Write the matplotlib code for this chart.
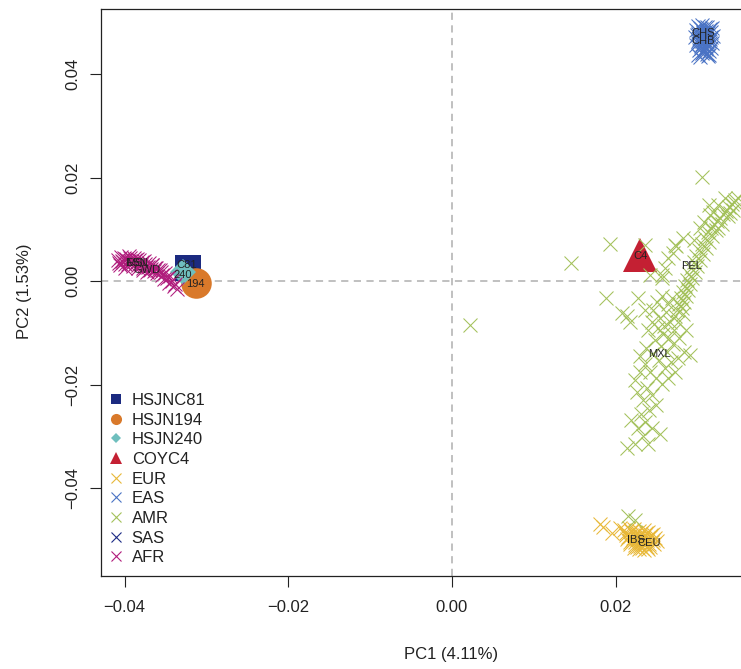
import matplotlib
matplotlib.use('Agg')
import matplotlib.pyplot as plt
from matplotlib.lines import Line2D

plt.rcParams['font.family'] = ['Liberation Sans', 'DejaVu Sans']

# population clouds (PC1, PC2)
afr_x = [-0.0408, -0.0406, -0.0404, -0.0402, -0.0400, -0.0398, -0.0396, -0.0394, -0.0392, -0.0390,
         -0.0388, -0.0386, -0.0384, -0.0382, -0.0380, -0.0378, -0.0376, -0.0374, -0.0372, -0.0370,
         -0.0368, -0.0366, -0.0364, -0.0362, -0.0360, -0.0357, -0.0354, -0.0351, -0.0348, -0.0345,
         -0.0342, -0.0339, -0.0336, -0.0352, -0.0346, -0.0340,
         -0.0407, -0.0403, -0.0399, -0.0395, -0.0391, -0.0387, -0.0383, -0.0379, -0.0375, -0.0371,
         -0.0367, -0.0363, -0.0359, -0.0355, -0.0401, -0.0393, -0.0385, -0.0377, -0.0369]
afr_y = [0.0040, 0.0030, 0.0046, 0.0036, 0.0026, 0.0043, 0.0033, 0.0049, 0.0039, 0.0029,
         0.0045, 0.0035, 0.0025, 0.0041, 0.0031, 0.0021, 0.0038, 0.0028, 0.0018, 0.0034,
         0.0024, 0.0030, 0.0020, 0.0026, 0.0016, 0.0022, 0.0012, 0.0016, 0.0006, 0.0010,
         0.0000, -0.0006, -0.0016, 0.0004, -0.0004, -0.0010,
         0.0035, 0.0038, 0.0032, 0.0038, 0.0034, 0.0040, 0.0030, 0.0036, 0.0032, 0.0027,
         0.0030, 0.0025, 0.0021, 0.0017, 0.0044, 0.0044, 0.0042, 0.0026, 0.0022]

eas_x = [0.0300, 0.0306, 0.0312, 0.0318, 0.0298, 0.0304, 0.0310, 0.0316, 0.0301, 0.0307,
         0.0313, 0.0319, 0.0297, 0.0303, 0.0309, 0.0315, 0.0300, 0.0306, 0.0312, 0.0318,
         0.0298, 0.0304, 0.0310, 0.0316, 0.0302, 0.0308, 0.0314, 0.0305, 0.0311, 0.0303, 0.0313,
         0.0303, 0.0309, 0.0315, 0.0301, 0.0307, 0.0313, 0.0299, 0.0305, 0.0311, 0.0317,
         0.0302, 0.0308, 0.0314, 0.0300, 0.0306, 0.0312, 0.0304, 0.0310, 0.0307, 0.0300, 0.0314]
eas_y = [0.0492, 0.0494, 0.0491, 0.0488, 0.0485, 0.0487, 0.0484, 0.0482, 0.0478, 0.0479,
         0.0476, 0.0474, 0.0472, 0.0470, 0.0471, 0.0468, 0.0463, 0.0464, 0.0461, 0.0459,
         0.0456, 0.0455, 0.0453, 0.0451, 0.0447, 0.0446, 0.0444, 0.0440, 0.0438, 0.0433, 0.0434,
         0.0489, 0.0490, 0.0486, 0.0481, 0.0482, 0.0479, 0.0475, 0.0474, 0.0473, 0.0471,
         0.0467, 0.0466, 0.0464, 0.0459, 0.0458, 0.0456, 0.0450, 0.0449, 0.0442, 0.0437, 0.0437]

eur_x = [0.0184, 0.0195, 0.0205, 0.0181,
         0.0210, 0.0216, 0.0222, 0.0228, 0.0234, 0.0240, 0.0246, 0.0212, 0.0218, 0.0224,
         0.0230, 0.0236, 0.0242, 0.0248, 0.0214, 0.0220, 0.0226, 0.0232, 0.0238, 0.0244,
         0.0250, 0.0218, 0.0224, 0.0230, 0.0236, 0.0242, 0.0228, 0.0234, 0.0222, 0.0240,
         0.0213, 0.0219, 0.0225, 0.0231, 0.0237, 0.0243, 0.0215, 0.0221, 0.0227, 0.0233,
         0.0239, 0.0245, 0.0217, 0.0223, 0.0229, 0.0235, 0.0241, 0.0247, 0.0226, 0.0232, 0.0238]
eur_y = [-0.0475, -0.0487, -0.0477, -0.0470,
         -0.0482, -0.0478, -0.0480, -0.0483, -0.0481, -0.0485, -0.0488, -0.0490, -0.0492, -0.0489,
         -0.0493, -0.0491, -0.0495, -0.0497, -0.0498, -0.0501, -0.0499, -0.0503, -0.0501, -0.0505,
         -0.0503, -0.0508, -0.0510, -0.0512, -0.0509, -0.0513, -0.0518, -0.0520, -0.0515, -0.0517,
         -0.0486, -0.0484, -0.0486, -0.0487, -0.0486, -0.0490, -0.0494, -0.0496, -0.0494, -0.0497,
         -0.0496, -0.0500, -0.0504, -0.0505, -0.0506, -0.0506, -0.0508, -0.0509, -0.0514, -0.0516, -0.0514]

amr_x = [0.0346, 0.0342, 0.0338, 0.0343, 0.0335, 0.0331, 0.0337, 0.0327, 0.0324, 0.0330,
         0.0320, 0.0316, 0.0323, 0.0313, 0.0318, 0.0309, 0.0314, 0.0305, 0.0310, 0.0302,
         0.0307, 0.0298, 0.0303, 0.0296, 0.0299, 0.0292, 0.0297, 0.0290, 0.0293, 0.0287,
         0.0291, 0.0285, 0.0288, 0.0282, 0.0286, 0.0280, 0.0283, 0.0277, 0.0281, 0.0275,
         0.0314, 0.0319, 0.0325, 0.0305, 0.0282, 0.0274, 0.0264, 0.0260, 0.0257, 0.0303,
         0.0296, 0.0334, 0.0340, 0.0325, 0.0315, 0.0308, 0.0350, 0.0345,
         0.0269, 0.0264, 0.0272, 0.0266, 0.0261, 0.0257, 0.0250, 0.0246, 0.0254, 0.0259,
         0.0276, 0.0282, 0.0271, 0.0265, 0.0258, 0.0252, 0.0244, 0.0239, 0.0248, 0.0255,
         0.0263, 0.0270, 0.0277, 0.0286, 0.0283, 0.0276, 0.0268, 0.0260, 0.0253, 0.0244,
         0.0237, 0.0230, 0.0236, 0.0242, 0.0249, 0.0257, 0.0264, 0.0291, 0.0272,
         0.0230, 0.0224, 0.0238, 0.0244, 0.0233, 0.0226, 0.0249, 0.0241, 0.0231, 0.0236,
         0.0244, 0.0254, 0.0227, 0.0233, 0.0224, 0.0214, 0.0239, 0.0219,
         0.0022, 0.0145, 0.0193, 0.0188, 0.0208, 0.0214, 0.0227, 0.0217, 0.0215, 0.0224,
         0.0236, 0.0272, 0.0270, 0.0242, 0.0257, 0.0236]
amr_y = [0.0157, 0.0149, 0.0143, 0.0137, 0.0135, 0.0130, 0.0126, 0.0122, 0.0116, 0.0110,
         0.0110, 0.0102, 0.0099, 0.0095, 0.0087, 0.0083, 0.0075, 0.0072, 0.0064, 0.0060,
         0.0052, 0.0048, 0.0041, 0.0037, 0.0029, 0.0025, 0.0017, 0.0014, 0.0006, 0.0002,
         -0.0006, -0.0010, -0.0017, -0.0021, -0.0029, -0.0033, -0.0041, -0.0044, -0.0052, -0.0056,
         0.0147, 0.0133, 0.0147, 0.0201, 0.0083, 0.0068, 0.0044, 0.0025, 0.0006, 0.0102,
         0.0079, 0.0160, 0.0131, 0.0102, 0.0128, 0.0114, 0.0160, 0.0152,
         -0.0033, -0.0044, -0.0068, -0.0079, -0.0060, -0.0029, -0.0041, -0.0056, -0.0072, -0.0087,
         -0.0079, -0.0064, -0.0095, -0.0110, -0.0102, -0.0091, -0.0079, -0.0095, -0.0114, -0.0126,
         -0.0137, -0.0122, -0.0110, -0.0095, -0.0137, -0.0149, -0.0157, -0.0168, -0.0153, -0.0141,
         -0.0129, -0.0145, -0.0160, -0.0176, -0.0187, -0.0199, -0.0187, -0.0143, -0.0176,
         -0.0176, -0.0191, -0.0207, -0.0220, -0.0230, -0.0214, -0.0240, -0.0249, -0.0257, -0.0272,
         -0.0284, -0.0296, -0.0284, -0.0300, -0.0315, -0.0323, -0.0315, -0.0269,
         -0.0085, 0.0035, 0.0072, -0.0033, -0.0062, -0.0068, -0.0033, -0.0079, -0.0454, -0.0462,
         0.0070, 0.0070, 0.0054, 0.0012, 0.0012, -0.0056]

sas_x = []
sas_y = []

pop_names = ['EUR', 'EAS', 'AMR', 'SAS', 'AFR']
pop_colors = ['#E8B838', '#4A73C4', '#A3C15A', '#1C2A85', '#B01C7C']
pop_x = [eur_x, eas_x, amr_x, sas_x, afr_x]
pop_y = [eur_y, eas_y, amr_y, sas_y, afr_y]

# ancient samples
sample_names = ['HSJNC81', 'HSJN194', 'HSJN240', 'COYC4']
sample_short = ['C81', '194', '240', 'C4']
sample_x = [-0.03225, -0.03128, -0.03287, 0.02297]
sample_y = [0.0025, -0.0004, 0.0017, 0.0050]
sample_markers = ['s', 'o', 'D', '^']
sample_colors = ['#1B2A80', '#D9792A', '#6FBFBE', '#C42033']
sample_sizes = [19, 22, 13, 25]
sample_label_x = [-0.0324, -0.0313, -0.0329, 0.0230]
sample_label_y = [0.0031, -0.0006, 0.0012, 0.0048]

# population labels
lab_text = ['ESN', 'MSL', 'GWD', 'CHS', 'CHB', 'PEL', 'MXL', 'IBS', 'CEU']
lab_x = [-0.0385, -0.0384, -0.0372, 0.0307, 0.0307, 0.0293, 0.0254, 0.0225, 0.0241]
lab_y = [0.0035, 0.0035, 0.0021, 0.0479, 0.0464, 0.0029, -0.0141, -0.0500, -0.0506]

fig = plt.figure(figsize=(7.41, 6.69), dpi=100)
ax = fig.add_axes([101/741, 93/669, 645/741, 567/669])

ax.axvline(0, color='#BBBBBB', lw=1.3, ls=(0, (4, 3)), zorder=1)
ax.axhline(0, color='#BBBBBB', lw=1.3, ls=(0, (4, 3)), zorder=1)

for i in range(4):
    ax.plot(sample_x[i], sample_y[i], marker=sample_markers[i], color=sample_colors[i],
            ms=sample_sizes[i], mew=0, ls='none', zorder=2)

for i in range(5):
    ax.plot(pop_x[i], pop_y[i], marker='x', color=pop_colors[i], ms=10, mew=0.75,
            ls='none', zorder=3)

for i in range(4):
    ax.text(sample_label_x[i], sample_label_y[i], sample_short[i], fontsize=8,
            ha='center', va='center', color='#222222', zorder=4)
for i in range(len(lab_text)):
    ax.text(lab_x[i], lab_y[i], lab_text[i], fontsize=8, ha='center', va='center',
            color='#222222', zorder=4)

ax.set_xlim(-0.04288, 0.03592)
ax.set_ylim(-0.0570, 0.05256)
ax.set_xticks([-0.04, -0.02, 0.00, 0.02])
ax.set_xticklabels(['\u22120.04', '\u22120.02', '0.00', '0.02'])
ax.set_yticks([-0.04, -0.02, 0.00, 0.02, 0.04])
ax.set_yticklabels(['\u22120.04', '\u22120.02', '0.00', '0.02', '0.04'],
                   rotation=90, va='center')
ax.tick_params(direction='out', length=8, width=0.8, labelsize=12, pad=7, colors='#222222')
ax.tick_params(axis='x', pad=9)
for s in ax.spines.values():
    s.set_linewidth(0.9)
    s.set_color('#222222')

ax.set_xlabel('PC1 (4.11%)', fontsize=12, color='#222222')
ax.xaxis.set_label_coords(0.543, -0.125)
ax.set_ylabel('PC2 (1.53%)', fontsize=12, color='#222222')
ax.yaxis.set_label_coords(-0.107, 0.503)

handles = []
leg_ms = [7, 8, 5, 9]
for i in range(4):
    handles.append(Line2D([], [], marker=sample_markers[i], color=sample_colors[i],
                          ms=leg_ms[i], mew=0, ls='none', label=sample_names[i]))
for i in range(5):
    handles.append(Line2D([], [], marker='x', color=pop_colors[i], ms=7, mew=0.8,
                          ls='none', label=pop_names[i]))
ax.legend(handles=handles, loc='lower left', bbox_to_anchor=(0.014, 0.019),
          borderaxespad=0, borderpad=0, frameon=False, fontsize=12,
          handlelength=0.7, handletextpad=0.6, labelspacing=0.28, labelcolor='#222222')

fig.savefig('out.png', dpi=100)
